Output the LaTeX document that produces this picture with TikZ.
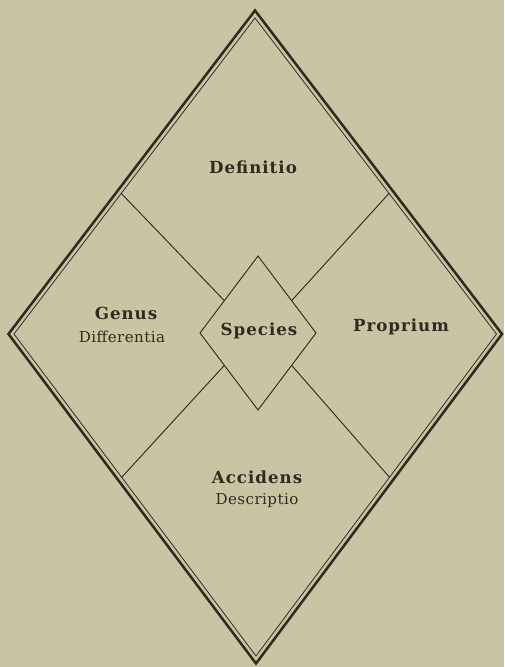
\documentclass[tikz,border=0pt]{standalone}
\usepackage{fontspec}
\setmainfont{DejaVu Serif}
\usetikzlibrary{calc}
\definecolor{paper}{RGB}{201,196,163}
\definecolor{ink}{RGB}{48,43,33}

\begin{document}
\begin{tikzpicture}[
        x=0.75pt, y=-0.75pt,
        border/.style={draw=ink, line width=1.9pt, line join=miter},
        rim/.style={draw=ink, line width=0.6pt, line join=miter},
        part/.style={draw=ink, line width=0.7pt},
        title/.style={font=\bfseries\fontsize{12.5}{14}\selectfont\addfontfeatures{LetterSpace=6}, text=ink, anchor=base, inner sep=0pt},
        sub/.style={font=\fontsize{11.3}{13}\selectfont\addfontfeatures{LetterSpace=3}, text=ink, anchor=base, inner sep=0pt}
    ]
    \fill[paper] (0,0) rectangle (504,667);
    \useasboundingbox (0,0) rectangle (504,667);
    % Rahmen: doppelte Raute
    \coordinate (T) at (255,10.5);  \coordinate (B) at (256,663.5);
    \coordinate (L) at (8.5,334);   \coordinate (R) at (502,334);
    \coordinate (Ti) at (255,18);   \coordinate (Bi) at (256,656);
    \coordinate (Li) at (14,334);   \coordinate (Ri) at (496.5,334);
    \draw[border] (T) -- (R) -- (B) -- (L) -- cycle;
    \draw[rim] (Ti) -- (Ri) -- (Bi) -- (Li) -- cycle;
    % innere Raute
    \coordinate (ST) at (258,256);  \coordinate (SB) at (258,410);
    \coordinate (SL) at (200,333);  \coordinate (SR) at (316,333);
    \draw[part] (ST) -- (SR) -- (SB) -- (SL) -- cycle;
    % Trennlinien
    \draw[part] ($(Li)!0.445!(Ti)$) -- ($(SL)!0.42!(ST)$);
    \draw[part] ($(Ri)!0.445!(Ti)$) -- ($(SR)!0.42!(ST)$);
    \draw[part] ($(Li)!0.445!(Bi)$) -- ($(SL)!0.42!(SB)$);
    \draw[part] ($(Ri)!0.445!(Bi)$) -- ($(SR)!0.42!(SB)$);
    % Felder
    \node[title] (def) at (253,173) {Definitio};
    \node[title] (gen) at (126,319) {Genus};
    \node[sub] (diff) at (122,342) {Differentia};
    \node[title] (spec) at (259,335) {Species};
    \node[title] (prop) at (401,331) {Proprium};
    \node[title] (acc) at (257,483) {Accidens};
    \node[sub] (desc) at (257,504) {Descriptio};
\end{tikzpicture}
\end{document}
